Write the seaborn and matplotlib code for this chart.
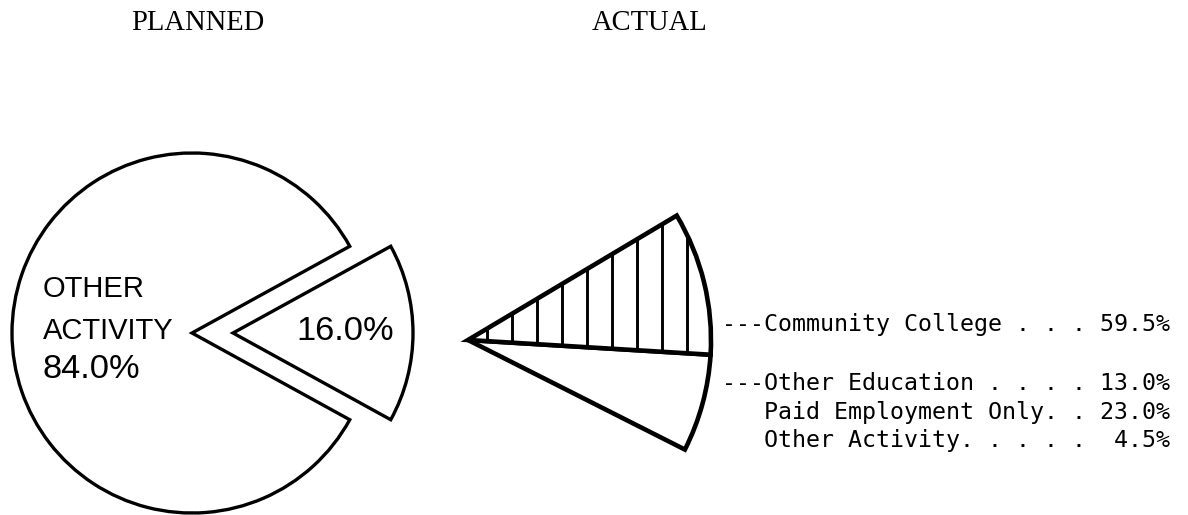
import matplotlib
matplotlib.use("Agg")
import matplotlib.pyplot as plt
import seaborn as sns

# ---------------- data ----------------
panel_titles = ["PLANNED", "ACTUAL"]
planned_labels = ["16.0%", "OTHER ACTIVITY 84.0%"]
planned_values = [16.0, 84.0]            # % of all graduates
actual_categories = ["Community College", "Other Education",
                     "Paid Employment Only", "Other Activity"]
actual_values = [59.5, 13.0, 23.0, 4.5]  # % of the planned 16.0% group
actual_leaders = [" . . . ", " . . . . ", ". . ", ". . . . .  "]
actual_prefix = ["---", "---", "   ", "   "]

# ---------------- style ----------------
sns.set_theme(style="white")
plt.rcParams["font.family"] = ["DejaVu Sans"]
plt.rcParams["hatch.linewidth"] = 1.4
plt.rcParams["hatch.color"] = "black"

W, H, DPI = 1188, 515, 150
fig = plt.figure(figsize=(W / DPI, H / DPI), dpi=DPI)
fig.patch.set_facecolor("white")
ax = fig.add_axes([0, 0, 1, 1])
ax.set_xlim(0, W)
ax.set_ylim(0, H)
ax.set_aspect("equal")
ax.set_axis_off()

def Y(y_img):
    return H - y_img

# ---------------- planned pie ----------------
small_span = 360 * planned_values[0] / sum(planned_values)
ax.pie(planned_values, center=(192, Y(333)), radius=180,
       startangle=-small_span / 2, counterclock=True,
       explode=[41, 0], colors=["white", "white"],
       wedgeprops=dict(edgecolor="black", linewidth=1.6),
       normalize=True, frame=True)

sans = ["Liberation Sans", "DejaVu Sans"]
ax.text(345, Y(332), planned_labels[0], ha="center", va="center",
        fontsize=16.5, family=sans, color="black")
words = planned_labels[1].split(" ")
ax.text(43, Y(289), words[0], ha="left", va="center",
        fontsize=14, family=sans, color="black")
ax.text(43, Y(331), words[1], ha="left", va="center",
        fontsize=14, family=sans, color="black")
ax.text(43, Y(370), words[2], ha="left", va="center",
        fontsize=16.5, family=sans, color="black")

# ---------------- actual wedge ----------------
frac = planned_values[0] / 100.0
cc = actual_values[0]
rest = sum(actual_values[1:])
wedges, _ = ax.pie([frac * rest / 100.0, frac * cc / 100.0],
                   center=(468, Y(340)), radius=243,
                   startangle=-small_span / 2 + 2, counterclock=True,
                   colors=["white", "white"], normalize=False,
                   wedgeprops=dict(edgecolor="black", linewidth=2.2),
                   frame=True)
wedges[1].set_hatch("|")

ax.set_xlim(0, W)
ax.set_ylim(0, H)
ax.set_axis_off()

# ---------------- legend text ----------------
mono = ["DejaVu Sans Mono"]
ys = [324, 383, 412, 441]
for pre, name, lead, val, yy in zip(actual_prefix, actual_categories,
                                    actual_leaders, actual_values, ys):
    s = f"{pre}{name}{lead}{val:.1f}%"
    ax.text(722, Y(yy), s, ha="left", va="center", fontsize=11.2,
            family=mono, color="black")

# ---------------- titles ----------------
serif = ["Liberation Serif", "DejaVu Serif"]
ax.text(198, Y(23), panel_titles[0], ha="center", va="center",
        fontsize=13.7, family=serif, color="black")
ax.text(650, Y(23), panel_titles[1], ha="center", va="center",
        fontsize=13.7, family=serif, color="black")

fig.savefig("out.png", dpi=DPI, facecolor="white")
